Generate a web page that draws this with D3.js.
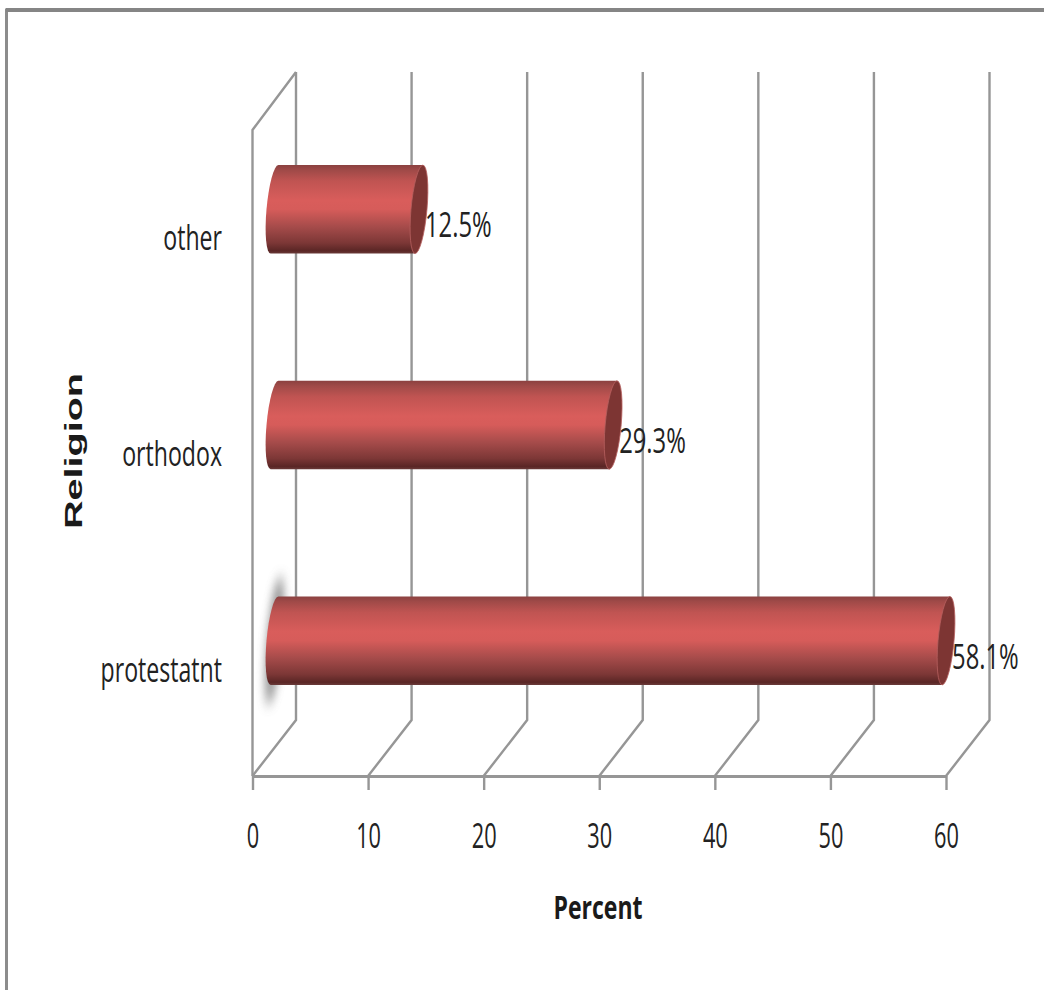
<!DOCTYPE html>
<html>
<head>
<meta charset="utf-8">
<script src="https://cdn.jsdelivr.net/npm/d3@7/dist/d3.min.js"></script>
<style>
  html, body { margin: 0; padding: 0; background: #fff; }
  svg { display: block; }
</style>
</head>
<body>
<svg id="chart" width="1044" height="990"></svg>
<script>
// Religion of respondents, percent per group
const categories = ["other", "orthodox", "protestatnt"];
const percents = [12.5, 29.3, 58.1];
const percentTicks = [0, 10, 20, 30, 40, 50, 60];

const svg = d3.select("#chart");
const lineGray = "#969696";
const textFont = "'Open Sans', sans-serif";
const inkColor = "#222222";

// Horizontal value scale and vertical category bands
const x = d3.scaleLinear().domain([0, 60]).range([252.5, 946]);
const y = d3.scaleBand().domain(categories).range([101.5, 748.5])
  .paddingInner(0.59).paddingOuter(0.295);

// Oblique projection of the chart box
const depthX = 43.5, floorY = 776, backFloorY = 720, backTopY = 72, wallTopY = 130;
const barShift = 22, capRx = 8, skew = -5;

// Outer frame
svg.append("path")
  .attr("d", "M6.5,990 V10 H1044")
  .attr("fill", "none").attr("stroke", "#8c8c8c").attr("stroke-width", 3);
svg.append("path")
  .attr("d", "M6,10 H1044")
  .attr("fill", "none").attr("stroke", "#858585").attr("stroke-width", 4);

const defs = svg.append("defs");
const grad = defs.append("linearGradient").attr("id", "tube")
  .attr("x1", 0).attr("x2", 0).attr("y1", 0).attr("y2", 1);
[[0, "#8b4140"], [0.06, "#a04a48"], [0.18, "#c05452"], [0.4, "#d95d5b"], [0.5, "#d65c5a"],
 [0.7, "#a54b4a"], [0.88, "#7c3736"], [0.97, "#5a2625"], [1, "#6a3a39"]]
  .forEach(([o, c]) => grad.append("stop").attr("offset", o).attr("stop-color", c));
defs.append("filter").attr("id", "halo").attr("x", "-300%").attr("width", "700%")
  .attr("y", "-20%").attr("height", "140%")
  .append("feGaussianBlur").attr("stdDeviation", "4 7");

// Gridlines across the back wall and floor
const grid = svg.append("g").attr("fill", "none").attr("stroke", lineGray).attr("stroke-width", 2.4);
grid.selectAll("path.grid").data(percentTicks).join("path").attr("class", "grid")
  .attr("d", d => `M${x(d)},${floorY} L${x(d) + depthX},${backFloorY} V${backTopY}`);
grid.append("path")
  .attr("d", `M${x(0)},${floorY} V${wallTopY} L${x(0) + depthX},${backTopY}`);

// Bottom axis
const axis = svg.append("g").attr("transform", `translate(0,${floorY})`)
  .call(d3.axisBottom(x).tickValues(percentTicks).tickSize(14).tickPadding(0).tickSizeOuter(0));
axis.select(".domain").attr("stroke", lineGray).attr("stroke-width", 3.2);
axis.selectAll(".tick line").attr("stroke", lineGray).attr("stroke-width", 2.4);
axis.selectAll(".tick text")
  .attr("y", 0).attr("dy", 0)
  .attr("transform", "translate(0,72) scale(0.64,1)")
  .attr("font-family", textFont).attr("font-weight", 400).attr("font-size", 34)
  .attr("fill", inkColor).attr("text-anchor", "middle");

// Soft shadow behind the end of the longest bar
const longest = categories[percents.indexOf(d3.max(percents))];
svg.append("ellipse")
  .attr("transform", `translate(${x(0) + barShift},${y(longest) + y.bandwidth() / 2}) skewX(${skew})`)
  .attr("rx", 7.5).attr("ry", 64)
  .attr("fill", "#707070").attr("opacity", 0.75)
  .attr("filter", "url(#halo)");

// Cylindrical bars
const rows = categories.map((c, i) => ({ c, v: percents[i] }));
const bars = svg.selectAll("g.bar").data(rows).join("g").attr("class", "bar")
  .attr("transform", d => `translate(0,${y(d.c) + y.bandwidth() / 2}) skewX(${skew})`);
const half = y.bandwidth() / 2;
bars.append("path")
  .attr("d", d => {
    const x0 = x(0) + barShift, x1 = x(d.v) + barShift;
    return `M${x1},${-half} H${x0} A${capRx},${half} 0 0 0 ${x0},${half} H${x1} Z`;
  })
  .attr("fill", "url(#tube)");
bars.append("ellipse")
  .attr("cx", d => x(d.v) + barShift)
  .attr("rx", capRx).attr("ry", half)
  .attr("fill", "#7d3533").attr("stroke", "#b5605e").attr("stroke-width", 0.8);

// Category labels
svg.selectAll("text.cat").data(categories).join("text").attr("class", "cat")
  .attr("transform", d => `translate(222,${y(d) + half + 41}) scale(0.68,1)`)
  .attr("text-anchor", "end")
  .attr("font-family", textFont).attr("font-weight", 400).attr("font-size", 34)
  .attr("fill", inkColor).text(d => d);

// Value labels at the bar ends
svg.selectAll("text.val").data(rows).join("text").attr("class", "val")
  .attr("transform", d => `translate(${x(d.v) + barShift + capRx - 2},${y(d.c) + half + 28}) scale(0.68,1)`)
  .attr("font-family", textFont).attr("font-weight", 400).attr("font-size", 35)
  .attr("fill", inkColor).text(d => d.v.toFixed(1) + "%");

// Axis titles
svg.append("text")
  .attr("transform", "translate(598,919) scale(0.72,1)")
  .attr("text-anchor", "middle")
  .attr("font-family", textFont).attr("font-weight", 700).attr("font-size", 32)
  .attr("fill", "#1a1a1a").text("Percent");
svg.append("text")
  .attr("transform", "translate(82,451) rotate(-90) scale(1.72,1)")
  .attr("text-anchor", "middle")
  .attr("font-family", "'Liberation Sans', sans-serif").attr("font-weight", 700).attr("font-size", 23)
  .attr("fill", "#1a1a1a").text("Religion");
</script>
</body>
</html>
